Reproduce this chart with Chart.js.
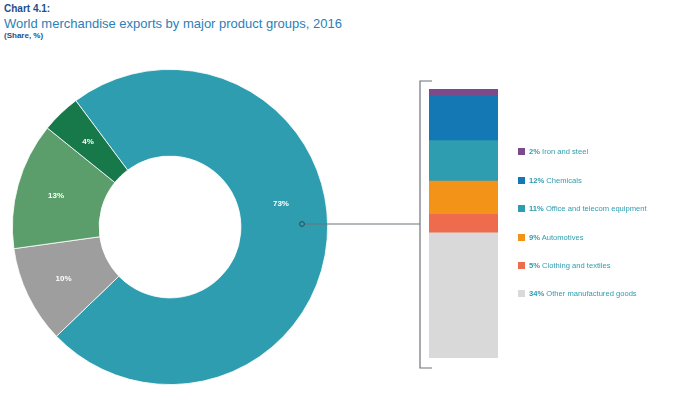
<!DOCTYPE html>
<html>
<head>
<meta charset="utf-8">
<script src="https://cdn.jsdelivr.net/npm/chart.js@4.4.0/dist/chart.umd.min.js"></script>
<style>
  body { margin: 0; background: #fff; font-family: "Liberation Sans", Arial, sans-serif; }
  #wrap { position: relative; width: 684px; height: 394px; overflow: hidden; }
  #donut { position: absolute; left: 0; top: 0; }
  #stack { position: absolute; left: 429px; top: 89px; }
  .hd1 { position: absolute; left: 4px; top: 3px; font-size: 10px; font-weight: bold; color: #1d4f8c; }
  .hd2 { position: absolute; left: 4px; top: 16px; font-size: 13px; color: #2d80b8; }
  .hd3 { position: absolute; left: 4px; top: 31px; font-size: 8px; font-weight: bold; color: #1d4f8c; }
  .leg { position: absolute; left: 518px; font-size: 7.6px; color: #2e9db0; white-space: nowrap; line-height: 9px; }
  .leg i { display: inline-block; width: 7px; height: 7px; margin-right: 4px; vertical-align: -1px; }
  .leg b { font-weight: bold; }
</style>
</head>
<body>
<div id="wrap">
  <div class="hd1">Chart 4.1:</div>
  <div class="hd2">World merchandise exports by major product groups, 2016</div>
  <div class="hd3">(Share, %)</div>
  <canvas id="donut" width="684" height="394"></canvas>
  <canvas id="stack" width="69" height="269"></canvas>
  <div id="legend"></div>
</div>
<script>
// main product groups (donut), clockwise from the manufactures slice
const groups = ["Manufactures", "Agricultural products", "Fuels and mining products", "Other"];
const groupShares = [73, 10, 13, 4];
const groupColors = ["#2e9db0", "#9e9e9e", "#5c9e6b", "#17784a"];

// breakdown of manufactures, top to bottom
const manuf = ["Iron and steel", "Chemicals", "Office and telecom equipment", "Automotives", "Clothing and textiles", "Other manufactured goods"];
const manufShares = [2, 12, 11, 9, 5, 34];
const manufColors = ["#7b4a8b", "#1478b4", "#2e9db0", "#f39419", "#ee6b4d", "#d9d9d9"];

const donutLabels = {
  id: 'donutLabels',
  afterDatasetsDraw(chart) {
    const ctx = chart.ctx;
    const meta = chart.getDatasetMeta(0);
    ctx.save();
    ctx.font = 'bold 8px "Liberation Sans", Arial, sans-serif';
    ctx.fillStyle = '#fff';
    ctx.textAlign = 'center';
    ctx.textBaseline = 'middle';
    meta.data.forEach((arc, i) => {
      const p = arc.getProps(['x', 'y', 'startAngle', 'endAngle', 'innerRadius', 'outerRadius']);
      let a = (p.startAngle + p.endAngle) / 2;
      let r = (p.innerRadius + p.outerRadius) / 2 + 4;
      // big slice: label sits just above the connector
      if (i === 0) { a = p.startAngle + (p.endAngle - p.startAngle) * 0.438; r -= 5; }
      ctx.fillText(groupShares[i] + '%', p.x + Math.cos(a) * r, p.y + Math.sin(a) * r);
    });
    // connector from manufactures slice to the bracket
    const c = meta.data[0].getProps(['x', 'y']);
    const dotX = c.x + 132, dotY = c.y - 3;
    ctx.strokeStyle = '#6e747a';
    ctx.lineWidth = 1.2;
    ctx.beginPath();
    ctx.moveTo(dotX, dotY);
    ctx.lineTo(420, dotY);
    ctx.moveTo(432, 81);
    ctx.lineTo(420, 81);
    ctx.lineTo(420, 368);
    ctx.lineTo(432, 368);
    ctx.stroke();
    ctx.beginPath();
    ctx.arc(dotX, dotY, 2.4, 0, Math.PI * 2);
    ctx.fillStyle = '#2e9db0';
    ctx.fill();
    ctx.strokeStyle = '#34444f';
    ctx.lineWidth = 1;
    ctx.stroke();
    ctx.restore();
  }
};

new Chart(document.getElementById('donut'), {
  type: 'doughnut',
  data: {
    labels: groups,
    datasets: [{
      data: groupShares,
      backgroundColor: groupColors,
      borderColor: '#fff',
      borderWidth: 0.8
    }]
  },
  options: {
    responsive: false,
    animation: false,
    rotation: -36.7,
    cutout: '45%',
    layout: { padding: { left: 12, right: 356, top: 69, bottom: 9 } },
    plugins: { legend: { display: false }, tooltip: { enabled: false } }
  },
  plugins: [donutLabels]
});

// stack is built bottom-up
const stackSets = manuf.map((name, i) => ({
  label: name,
  data: [manufShares[i]],
  backgroundColor: manufColors[i],
  borderWidth: 0,
  barPercentage: 1,
  categoryPercentage: 1
})).reverse();

new Chart(document.getElementById('stack'), {
  type: 'bar',
  data: { labels: ['Manufactures'], datasets: stackSets },
  options: {
    responsive: false,
    animation: false,
    layout: { padding: 0 },
    scales: {
      x: { stacked: true, display: false },
      y: { stacked: true, display: false, min: 0, max: 73 }
    },
    plugins: { legend: { display: false }, tooltip: { enabled: false } }
  }
});

const legend = document.getElementById('legend');
const rowY = [151.7, 180, 208.4, 237, 265.2, 293.7];
manuf.forEach((name, i) => {
  const d = document.createElement('div');
  d.className = 'leg';
  d.style.top = (rowY[i] - 4.5) + 'px';
  d.innerHTML = '<i style="background:' + manufColors[i] + '"></i><b>' + manufShares[i] + '%</b> ' + name;
  legend.appendChild(d);
});
</script>
</body>
</html>
